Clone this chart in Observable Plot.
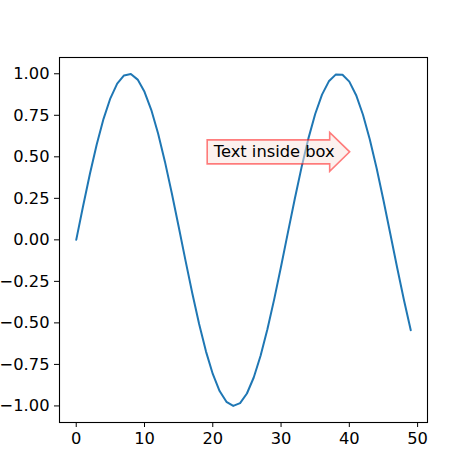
<!DOCTYPE html>
<html><head><meta charset="utf-8">
<script src="https://cdn.jsdelivr.net/npm/d3@7"></script>
<script src="https://cdn.jsdelivr.net/npm/@observablehq/plot@0.6"></script>
<style>html,body{margin:0;padding:0;background:#fff;}</style>
</head><body><div id="chart"></div>
<script>
const xValues = [0,1,2,3,4,5,6,7,8,9,10,11,12,13,14,15,16,17,18,19,20,21,22,23,24,25,26,27,28,29,30,31,32,33,34,35,36,37,38,39,40,41,42,43,44,45,46,47,48,49];
const yValues = [0.0000,0.2027,0.3970,0.5747,0.7287,0.8523,0.9406,0.9899,0.9981,0.9649,0.8916,0.7813,0.6385,0.4693,0.2807,0.0803,-0.1234,-0.3220,-0.5072,-0.6713,-0.8076,-0.9103,-0.9753,-0.9998,-0.9828,-0.9251,-0.8289,-0.6983,-0.5387,-0.3568,-0.1601,0.0433,0.2449,0.4363,0.6096,0.7576,0.8742,0.9545,0.9951,0.9945,0.9525,0.8711,0.7535,0.6047,0.4306,0.2388,0.0370,-0.1662,-0.3626,-0.5440];
const xTicks = [0,10,20,30,40,50];
const yTicks = [-1.00,-0.75,-0.50,-0.25,0.00,0.25,0.50,0.75,1.00];
const annotationText = ["Text inside box"];
const annotationX = [29];
const annotationY = [0.53];

const series = xValues.map((x, i) => ({x, y: yValues[i]}));
const annots = annotationText.map((t, i) => ({text: t, x: annotationX[i], y: annotationY[i]}));

const FONT = 16.3;

const chart = Plot.plot({
  width: 474,
  height: 474,
  marginLeft: 59,
  marginRight: 47,
  marginTop: 57,
  marginBottom: 52,
  style: {fontFamily: "DejaVu Sans", fontSize: FONT + "px", background: "white", color: "black"},
  x: {domain: [-2.45, 51.45]},
  y: {domain: [-1.0998, 1.098]},
  marks: [
    Plot.line(series, {x: "x", y: "y", stroke: "#1f77b4", strokeWidth: 2, strokeLinejoin: "round"}),
    Plot.text(annots, {
      x: "x", y: "y", text: "text", fill: "black", fontSize: FONT, textAnchor: "middle",
      render(index, scales, values, dims, context, next) {
        const g = next(index, scales, values, dims, context);
        const ctx = document.createElement("canvas").getContext("2d");
        ctx.font = FONT + "px 'DejaVu Sans'";
        for (const i of index) {
          const w = ctx.measureText(annots[i].text).width;
          const cx = values.x[i], cy = values.y[i];
          const left = cx - w / 2 - 6.6;
          const x1 = cx + w / 2 - 5;
          const hh = 12, head = 19.5, tip = 20;
          const d = `M${left},${cy - hh}L${x1},${cy - hh}L${x1},${cy - head}L${x1 + tip},${cy}L${x1},${cy + head}L${x1},${cy + hh}L${left},${cy + hh}Z`;
          const p = context.document.createElementNS("http://www.w3.org/2000/svg", "path");
          p.setAttribute("d", d);
          p.setAttribute("fill", "rgb(250,228,222)");
          p.setAttribute("fill-opacity", "0.5");
          p.setAttribute("stroke", "#ff0000");
          p.setAttribute("stroke-opacity", "0.5");
          p.setAttribute("stroke-width", "1.6");
          p.setAttribute("stroke-linejoin", "miter");
          g.insertBefore(p, g.firstChild);
        }
        return g;
      }
    }),
    Plot.frame({stroke: "black", strokeWidth: 1.1}),
    Plot.axisX({ticks: xTicks, tickSize: 5, tickPadding: 5, tickFormat: d => String(d), label: null, fontSize: FONT}),
    Plot.axisY({ticks: yTicks, tickSize: 5, tickPadding: 5, tickFormat: d => d.toFixed(2).replace("-", "\u2212"), label: null, fontSize: FONT})
  ]
});
document.getElementById("chart").appendChild(chart);
</script>
</body></html>
